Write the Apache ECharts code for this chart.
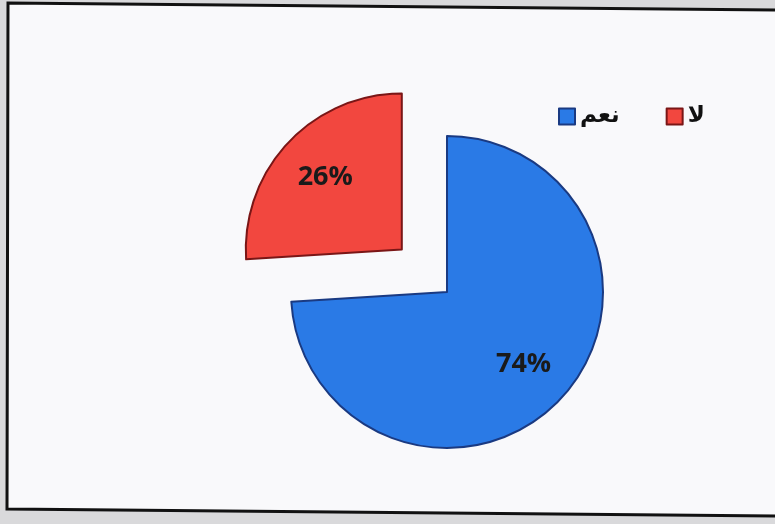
<!DOCTYPE html>
<html>
<head>
<meta charset="utf-8">
<script src="https://cdn.jsdelivr.net/npm/echarts@6/dist/echarts.min.js"></script>
<style>
  html, body { margin: 0; padding: 0; background: #d9d9db; }
  #chart { width: 775px; height: 524px; }
</style>
</head>
<body>
<div id="chart"></div>
<script>
// Answers and their shares (percent)
const categories = ['نعم', 'لا'];
const shares = [74, 26];
const sliceColors = ['#2a7ae6', '#f2473f'];
const sliceBorders = ['#1a3a82', '#7a1616'];

const chart = echarts.init(document.getElementById('chart'), null, { renderer: 'canvas' });

const CENTER = [447, 292];
const RADIUS = 156;
const EXPLODE = 62;

const pieData = categories.map((name, i) => ({
  name: name,
  value: shares[i],
  selected: name === 'لا',
  itemStyle: { color: sliceColors[i], borderColor: sliceBorders[i] }
}));

const labelData = categories.map((name, i) => ({
  name: name,
  value: shares[i],
  selected: name === 'لا'
}));

chart.setOption({
  animation: false,
  backgroundColor: '#d9d9db',
  graphic: [
    {
      type: 'polygon',
      silent: true,
      z: -10,
      shape: { points: [[8, 3], [775, 10], [775, 516], [7, 509]] },
      style: { fill: '#f9f9fb' }
    },
    {
      type: 'polyline',
      silent: true,
      z: 100,
      shape: { points: [[775, 10], [8, 3], [7, 509], [775, 516]] },
      style: { stroke: '#111111', lineWidth: 3, fill: null }
    }
  ],
  legend: {
    data: categories,
    left: 553,
    top: 100,
    itemWidth: 16,
    itemHeight: 16,
    itemGap: 46,
    icon: 'rect',
    selectedMode: false,
    textStyle: {
      fontFamily: 'DejaVu Sans, sans-serif',
      fontWeight: 'bold',
      fontSize: 23,
      color: '#111111'
    }
  },
  series: [
    {
      type: 'pie',
      name: 'main',
      center: CENTER,
      radius: [0, RADIUS],
      startAngle: 90,
      clockwise: true,
      selectedMode: 'single',
      selectedOffset: EXPLODE,
      silent: true,
      label: { show: false },
      labelLine: { show: false },
      emphasis: { disabled: true },
      itemStyle: { borderWidth: 2 },
      data: pieData
    },
    {
      type: 'pie',
      name: 'labels',
      center: CENTER,
      radius: [48, RADIUS],
      startAngle: 90,
      clockwise: true,
      selectedMode: 'single',
      selectedOffset: EXPLODE,
      silent: true,
      legendHoverLink: false,
      itemStyle: { color: 'rgba(0,0,0,0)', borderWidth: 0 },
      emphasis: { disabled: true },
      labelLine: { show: false },
      label: {
        show: true,
        position: 'inside',
        formatter: p => p.value + '%',
        fontFamily: 'Open Sans, DejaVu Sans, sans-serif',
        fontWeight: 'bold',
        fontSize: 27,
        color: '#1a1a1a'
      },
      data: labelData
    }
  ]
});
</script>
</body>
</html>
